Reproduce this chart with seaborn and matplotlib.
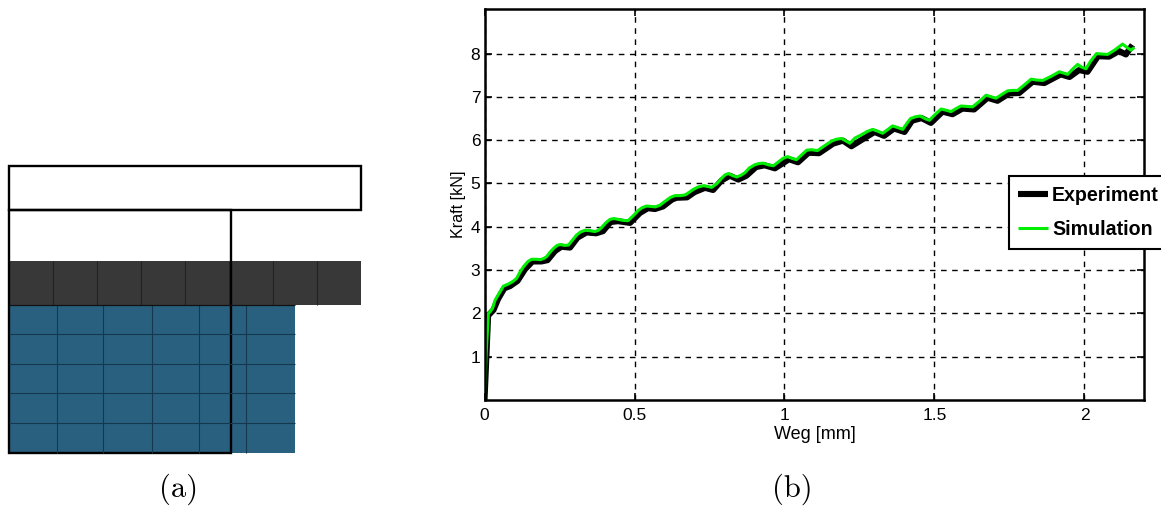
import pandas as pd
import matplotlib.pyplot as plt
import seaborn as sns
from matplotlib.patches import Rectangle

# curve values
weg_sim = [0, 0.005, 0.013, 0.02, 0.027, 0.035, 0.045, 0.063, 0.08, 0.095, 0.107, 0.118, 0.13, 0.145, 0.157,
           0.172, 0.186, 0.198, 0.207, 0.218, 0.23, 0.242, 0.252, 0.268, 0.28, 0.293, 0.307, 0.32, 0.335,
           0.352, 0.368, 0.38, 0.39, 0.404, 0.418, 0.43, 0.44, 0.46, 0.478, 0.495, 0.513, 0.525, 0.54,
           0.555, 0.57, 0.585, 0.6, 0.62, 0.635, 0.655, 0.67, 0.683, 0.695, 0.712, 0.73, 0.745, 0.757,
           0.775, 0.79, 0.802, 0.813, 0.828, 0.841, 0.855, 0.868, 0.883, 0.9, 0.915, 0.929, 0.947, 0.963,
           0.98, 0.995, 1.01, 1.025, 1.04, 1.057, 1.074, 1.09, 1.11, 1.133, 1.157, 1.172, 1.19, 1.205,
           1.218, 1.235, 1.255, 1.275, 1.294, 1.31, 1.327, 1.345, 1.36, 1.378, 1.394, 1.407, 1.42, 1.436,
           1.452, 1.468, 1.483, 1.5, 1.522, 1.54, 1.555, 1.572, 1.588, 1.61, 1.627, 1.65, 1.672, 1.69,
           1.705, 1.725, 1.744, 1.76, 1.777, 1.8, 1.822, 1.84, 1.861, 1.89, 1.916, 1.93, 1.944, 1.96,
           1.977, 1.99, 2.005, 2.02, 2.04, 2.058, 2.077, 2.1, 2.127, 2.14, 2.155, 2.166]
kraft_sim = [0, 1.0, 2.0, 2.05, 2.12, 2.3, 2.42, 2.63, 2.68, 2.74, 2.81, 2.95, 3.08, 3.2, 3.25,
             3.25, 3.24, 3.27, 3.31, 3.41, 3.5, 3.57, 3.59, 3.57, 3.58, 3.69, 3.81, 3.88, 3.92,
             3.91, 3.89, 3.92, 3.98, 4.09, 4.17, 4.19, 4.18, 4.15, 4.14, 4.25, 4.38, 4.44, 4.48,
             4.47, 4.46, 4.5, 4.58, 4.68, 4.72, 4.72, 4.74, 4.8, 4.86, 4.92, 4.95, 4.93, 4.91,
             5.0, 5.12, 5.2, 5.23, 5.18, 5.15, 5.19, 5.25, 5.36, 5.43, 5.46, 5.47, 5.43, 5.41,
             5.5, 5.58, 5.62, 5.58, 5.55, 5.66, 5.77, 5.78, 5.76, 5.87, 5.98, 6.02, 6.04, 5.98,
             5.93, 6.05, 6.12, 6.2, 6.25, 6.21, 6.16, 6.25, 6.33, 6.29, 6.25, 6.38, 6.5, 6.54,
             6.56, 6.5, 6.46, 6.58, 6.72, 6.69, 6.66, 6.73, 6.79, 6.78, 6.77, 6.9, 7.04, 7.0,
             6.97, 7.06, 7.14, 7.15, 7.15, 7.28, 7.41, 7.39, 7.38, 7.48, 7.58, 7.55, 7.52, 7.64,
             7.75, 7.69, 7.65, 7.82, 8.0, 7.99, 7.98, 8.08, 8.22, 8.15, 8.08, 8.14]
weg_exp = [0, 0.012, 0.03, 0.045, 0.066, 0.085, 0.11, 0.135, 0.16, 0.19, 0.21, 0.235, 0.256, 0.285,
           0.31, 0.34, 0.372, 0.395, 0.42, 0.445, 0.485, 0.518, 0.545, 0.568, 0.595, 0.625, 0.64, 0.675,
           0.7, 0.735, 0.762, 0.79, 0.818, 0.846, 0.873, 0.905, 0.934, 0.968, 1.015, 1.045, 1.08, 1.115,
           1.162, 1.195, 1.223, 1.26, 1.3, 1.332, 1.365, 1.4, 1.425, 1.457, 1.488, 1.527, 1.56,
           1.593, 1.632, 1.677, 1.71, 1.749, 1.782, 1.827, 1.866, 1.921, 1.95, 1.982, 2.01, 2.045,
           2.082, 2.115, 2.138, 2.16]
kraft_exp = [0, 1.95, 2.08, 2.33, 2.58, 2.63, 2.75, 3.02, 3.2, 3.2, 3.23, 3.44, 3.54, 3.52,
             3.75, 3.87, 3.85, 3.9, 4.11, 4.13, 4.09, 4.32, 4.43, 4.41, 4.47, 4.63, 4.67, 4.68,
             4.8, 4.9, 4.85, 5.07, 5.18, 5.09, 5.18, 5.38, 5.42, 5.35, 5.56, 5.49, 5.71, 5.7,
             5.92, 5.99, 5.86, 6.02, 6.19, 6.1, 6.27, 6.19, 6.45, 6.51, 6.4, 6.66, 6.6,
             6.73, 6.71, 6.98, 6.91, 7.08, 7.09, 7.35, 7.32, 7.52, 7.46, 7.62, 7.58, 7.94,
             7.93, 8.06, 7.98, 8.2]

x_ticks = [0, 0.5, 1, 1.5, 2]
x_tick_labels = ["0", "0.5", "1", "1.5", "2"]
y_ticks = [1, 2, 3, 4, 5, 6, 7, 8]

# schematic (a), in image pixels
plate_box = [9, 166, 352, 44]
tool_box = [9, 210, 222, 243]
dark_strip = [9, 261, 352, 44]
dark_dividers = [53, 97, 141, 185, 229, 273, 317]
blue_block = [9, 305, 286, 148]
blue_vertical = [57, 103, 152, 199, 246]
blue_horizontal = [334, 364, 393, 423]

W, H = 1161, 509

sns.set_style("ticks")
plt.rcParams["font.family"] = ["Liberation Sans", "DejaVu Sans"]
plt.rcParams["text.color"] = "black"
plt.rcParams["axes.labelcolor"] = "black"
plt.rcParams["xtick.labelcolor"] = "black"
plt.rcParams["ytick.labelcolor"] = "black"

fig = plt.figure(figsize=(W / 100, H / 100), dpi=100)

# left panel
ax_a = fig.add_axes([0, 0, 1, 1])
ax_a.set_xlim(0, W)
ax_a.set_ylim(H, 0)
ax_a.axis("off")

ax_a.add_patch(Rectangle(blue_block[:2], blue_block[2], blue_block[3], fc="#296080", ec="none"))
ax_a.vlines(blue_vertical, blue_block[1], blue_block[1] + blue_block[3], color="#16384f", lw=0.8)
ax_a.hlines(blue_horizontal, blue_block[0], blue_block[0] + blue_block[2], color="#16384f", lw=0.8)
ax_a.add_patch(Rectangle(dark_strip[:2], dark_strip[2], dark_strip[3], fc="#383838", ec="none"))
ax_a.vlines(dark_dividers, dark_strip[1], dark_strip[1] + dark_strip[3], color="#222222", lw=0.8)
ax_a.hlines(dark_strip[1] + dark_strip[3], dark_strip[0], blue_block[0] + blue_block[2], color="#111111", lw=0.9)
ax_a.add_patch(Rectangle(plate_box[:2], plate_box[2], plate_box[3], fc="none", ec="black", lw=1.7))
ax_a.add_patch(Rectangle(tool_box[:2], tool_box[2], tool_box[3], fc="none", ec="black", lw=1.7))

ax_a.text(179, 489, "(a)", family="cmr10", fontsize=22, ha="center", va="center")
ax_a.text(792, 489, "(b)", family="cmr10", fontsize=22, ha="center", va="center")

# right panel
ax = fig.add_axes([484.5 / W, 1 - 400 / H, 660 / W, 391 / H])

df_exp = pd.DataFrame({"Weg": weg_exp, "Kraft": kraft_exp})
df_sim = pd.DataFrame({"Weg": weg_sim, "Kraft": kraft_sim})
sns.lineplot(data=df_exp, x="Weg", y="Kraft", color="black", lw=4.4, sort=False, ax=ax,
             label="Experiment", estimator=None, solid_capstyle="butt", solid_joinstyle="round")
sns.lineplot(data=df_sim, x="Weg", y="Kraft", color="#00ee00", lw=2.2, sort=False, ax=ax,
             label="Simulation", estimator=None, solid_capstyle="butt", solid_joinstyle="round")

ax.set_xlim(0, 2.2)
ax.set_ylim(0, 9.03)
ax.set_xticks(x_ticks)
ax.set_xticklabels(x_tick_labels)
ax.set_yticks(y_ticks)
ax.tick_params(direction="in", top=True, right=True, length=5, width=1.2, labelsize=12.5, color="black")
ax.tick_params(axis="x", pad=6)
ax.tick_params(axis="y", pad=3)
ax.grid(True, color="black", ls=(0, (4, 4)), lw=1)
ax.set_axisbelow(True)
for side in ax.spines.values():
    side.set_linewidth(1.8)
    side.set_color("black")
ax.set_xlabel("Weg [mm]", fontsize=13, labelpad=2)
ax.set_ylabel("Kraft [kN]", fontsize=11.6, labelpad=3)

leg = ax.legend(loc="upper left", bbox_to_anchor=(1008.5 / W, 1 - 176 / H), bbox_transform=fig.transFigure,
                prop={"weight": "bold", "size": 14.1}, frameon=True, fancybox=False, framealpha=1,
                edgecolor="black", handlelength=1.5, handletextpad=0.22, labelspacing=0.78,
                borderpad=0.5, borderaxespad=0)
leg.get_frame().set_linewidth(1.5)
leg.set_clip_on(False)

fig.savefig("out.png", dpi=100)
